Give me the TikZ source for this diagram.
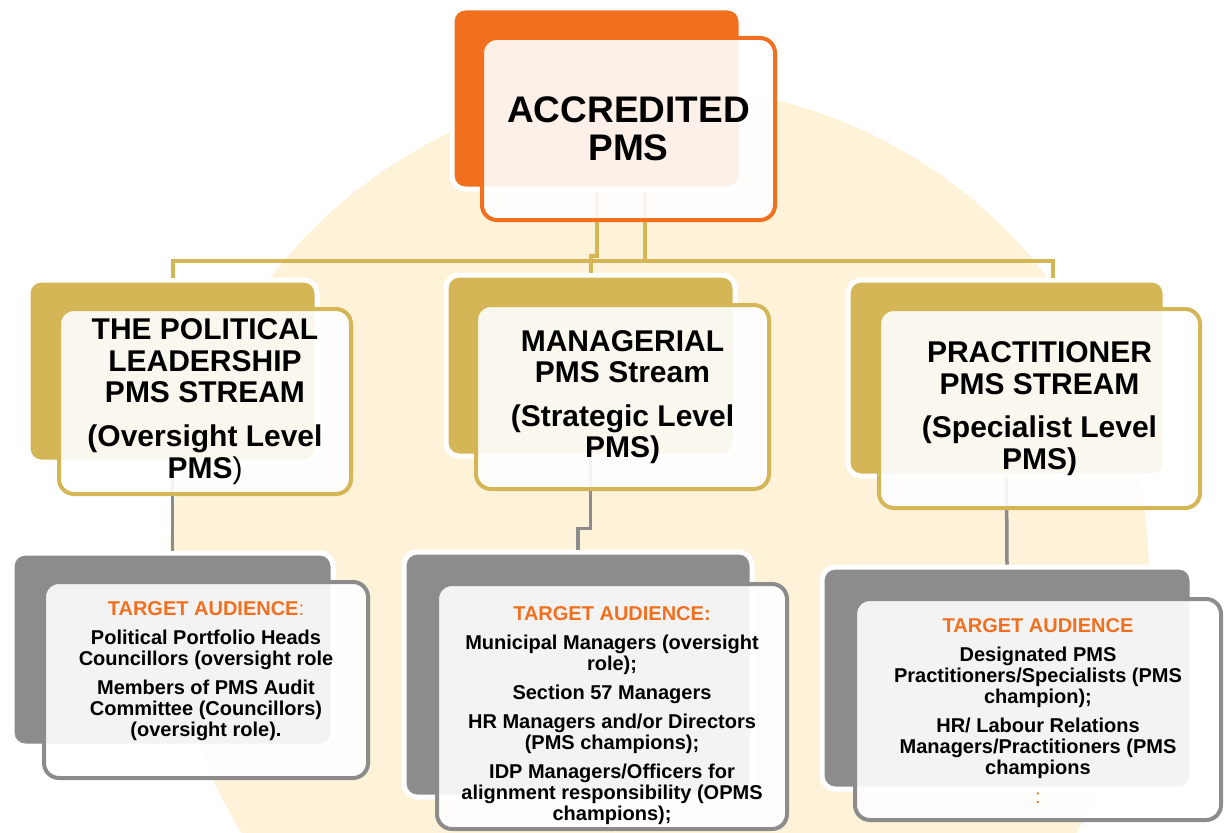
\documentclass[tikz,border=0pt]{standalone}
\usepackage{fontspec}
\setmainfont{Liberation Sans}
\usetikzlibrary{positioning}
\definecolor{pmsorange}{HTML}{F0701F}
\definecolor{pmsgold}{HTML}{D5B657}
\definecolor{pmsgray}{HTML}{8C8C8C}
\definecolor{pmscream}{HTML}{FEF2D8}
\tikzset{
  backbox/.style={rounded corners=13pt,draw=white,line width=5pt,inner sep=0pt},
  frontbox/.style={rounded corners=15pt,fill=white,fill opacity=0.9,text opacity=1,line width=4pt,inner sep=0pt,align=center},
  headfont/.style={font=\fontsize{30}{31.5}\selectfont\bfseries},
  audtext/.style={align=center,inner sep=0pt,font=\fontsize{20}{21}\selectfont\bfseries},
  goldline/.style={draw=pmsgold,line width=4pt},
  grayline/.style={draw=pmsgray,line width=3.5pt},
}
\begin{document}
\begin{tikzpicture}[x=1pt,y=-1pt]
    \useasboundingbox (0,0) rectangle (1225,832);
    \clip (0,0) rectangle (1225,832);
    \fill[pmscream] (659,576) circle[radius=490];
    % back plates
    \node[backbox,fill=pmsorange,minimum width=289pt,minimum height=181pt] (accB) at (596.5,98.5) {};
    \node[backbox,fill=pmsgold,minimum width=289pt,minimum height=182pt] (polB) at (172.5,371) {};
    \node[backbox,fill=pmsgold,minimum width=289pt,minimum height=181pt] (manB) at (590.5,365.5) {};
    \node[backbox,fill=pmsgold,minimum width=317pt,minimum height=196pt] (praB) at (1006.5,378) {};
    \node[backbox,fill=pmsgray,minimum width=321pt,minimum height=193pt] (audPolB) at (172.5,649.5) {};
    \node[backbox,fill=pmsgray,minimum width=348pt,minimum height=245pt] (audManB) at (578,674.5) {};
    \node[backbox,fill=pmsgray,minimum width=370pt,minimum height=222pt] (audPraB) at (1007,678) {};
    % connectors
    \coordinate (busA) at ([xshift=48pt]accB.south);
    \coordinate (praDrop) at ([xshift=46.5pt]praB.north);
    \draw[goldline] (busA) -- ++(0,69) coordinate (busM);
    \draw[goldline] (polB.north) |- (busM) -| (praDrop);
    \draw[goldline] (accB.south) -- ++(0,64) -| (manB.north);
    \draw[grayline] (polB.south) -- (audPolB.north);
    \draw[grayline] (manB.south) -- ++(0,70) -| (audManB.north);
    \draw[grayline] (praB.south) -- (audPraB.north);
    % front boxes
    \node[frontbox,draw=pmsorange,minimum width=293pt,minimum height=182pt,font=\fontsize{37}{38}\selectfont\bfseries] (acc) at (628.5,129) {ACCREDITED\\PMS};
    \node[frontbox,draw=pmsgold,minimum width=292pt,minimum height=185pt,headfont] (pol) at (205,401.5) {THE POLITICAL\\LEADERSHIP\\PMS STREAM\\[12.5pt](Oversight Level\\PMS{\mdseries)}};
    \node[frontbox,draw=pmsgold,minimum width=293pt,minimum height=184pt,headfont] (man) at (622.5,397) {MANAGERIAL\\PMS Stream\\[12pt](Strategic Level\\PMS)};
    \node[frontbox,draw=pmsgold,minimum width=321pt,minimum height=199pt,headfont] (pra) at (1039.5,408.5) {PRACTITIONER\\PMS STREAM\\[12pt](Specialist Level\\PMS)};
    \node[frontbox,draw=pmsgray,minimum width=324pt,minimum height=196pt] (audPol) at (206,680) {};
    \node[frontbox,draw=pmsgray,minimum width=350pt,minimum height=245pt] (audMan) at (612,706.5) {};
    \node[frontbox,draw=pmsgray,minimum width=366pt,minimum height=221pt] (audPra) at (1038,709.5) {};
    % audiences
    \node[audtext,below=21pt of audPol.north] (audPolT) {\textcolor{pmsorange}{TARGET AUDIENCE{\mdseries:}}\\[8pt]Political Portfolio Heads\\Councillors (oversight role\\[8pt]Members of PMS Audit\\Committee (Councillors)\\(oversight role).};
    \node[audtext,below=24pt of audMan.north] (audManT) {\textcolor{pmsorange}{TARGET AUDIENCE:}\\[8pt]Municipal Managers (oversight\\role);\\[8pt]Section 57 Managers\\[8pt]HR Managers and/or Directors\\(PMS champions);\\[8pt]IDP Managers/Officers for\\alignment responsibility (OPMS\\champions);};
    \node[audtext,below=21pt of audPra.north] (audPraT) {\textcolor{pmsorange}{TARGET AUDIENCE}\\[8pt]Designated PMS\\Practitioners/Specialists (PMS\\champion);\\[8pt]HR/ Labour Relations\\Managers/Practitioners (PMS\\champions\\[8pt]\textcolor{pmsorange}{\mdseries :}};
\end{tikzpicture}
\end{document}
